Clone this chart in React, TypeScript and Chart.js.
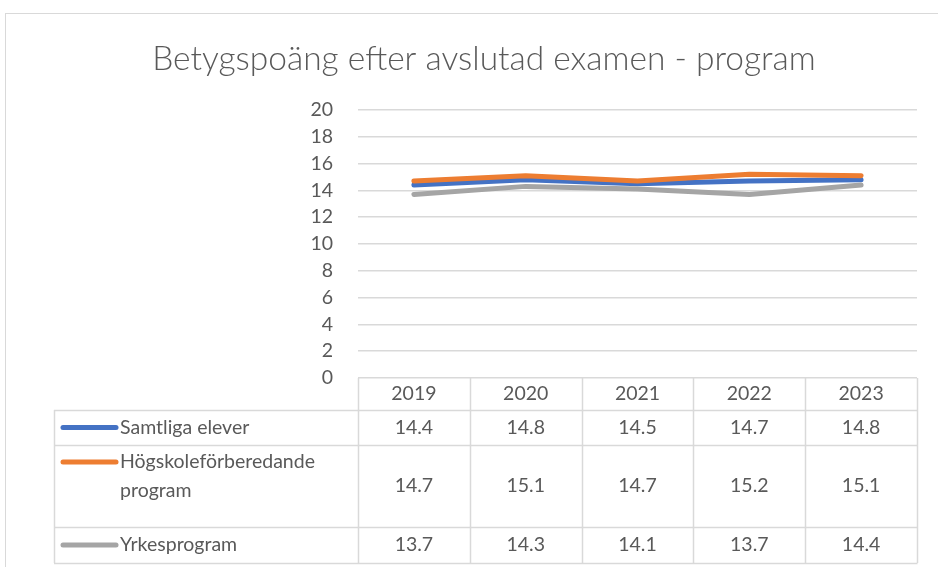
import React, { useEffect, useRef } from "react";
import { Chart, registerables } from "chart.js";

Chart.register(...registerables);

const TITLE = "Betygspoäng efter avslutad examen - program";
const YEARS = ["2019", "2020", "2021", "2022", "2023"];
const SERIES_NAMES = ["Samtliga elever", "Högskoleförberedande program", "Yrkesprogram"];
const SAMTLIGA = [14.4, 14.8, 14.5, 14.7, 14.8];
const HOGSKOLE = [14.7, 15.1, 14.7, 15.2, 15.1];
const YRKES = [13.7, 14.3, 14.1, 13.7, 14.4];
const COLORS = ["#4472C4", "#ED7D31", "#A5A5A5"];
const Y_MIN = 0;
const Y_MAX = 20;
const Y_STEP = 2;

const FONT = "Lato, 'Open Sans', sans-serif";
const TEXT_COLOR = "#595959";
const GRID_COLOR = "#D9D9D9";

// layout constants (pixels)
const HEADER_H = 32;
const ROW_H = [35, 82, 36];
const TABLE_LEFT = 54;
const KEY_X0 = 63;
const KEY_X1 = 116;
const LABEL_X = 120;

function wrapText(ctx: CanvasRenderingContext2D, text: string, maxW: number): string[] {
  const words = text.split(" ");
  const lines: string[] = [];
  let cur = "";
  for (const w of words) {
    const test = cur ? cur + " " + w : w;
    if (ctx.measureText(test).width > maxW && cur) {
      lines.push(cur);
      cur = w;
    } else cur = test;
  }
  if (cur) lines.push(cur);
  return lines;
}

const tablePlugin = {
  id: "excelTable",
  beforeDraw(chart: any) {
    const ctx = chart.ctx as CanvasRenderingContext2D;
    ctx.save();
    ctx.strokeStyle = GRID_COLOR;
    ctx.lineWidth = 1;
    ctx.strokeRect(5.5, 13.5, 960, 600);
    ctx.fillStyle = TEXT_COLOR;
    ctx.font = `300 33.5px ${FONT}`;
    ctx.textAlign = "center";
    ctx.textBaseline = "middle";
    ctx.fillText(TITLE, 484, 59);
    ctx.restore();
  },
  afterDraw(chart: any) {
    const ctx = chart.ctx as CanvasRenderingContext2D;
    const area = chart.chartArea;
    const xs = chart.scales.x;
    const n = YEARS.length;
    const top = area.bottom;
    const rowTops: number[] = [top + HEADER_H];
    for (let i = 0; i < ROW_H.length; i++) rowTops.push(rowTops[i] + ROW_H[i]);
    const bottom = rowTops[rowTops.length - 1];
    const colEdges: number[] = [];
    for (let i = 0; i <= n; i++) colEdges.push(Math.round(xs.getPixelForValue(i - 0.5)) + 0.5);

    ctx.save();
    ctx.strokeStyle = GRID_COLOR;
    ctx.lineWidth = 1.5;
    ctx.beginPath();
    for (const x of colEdges) {
      ctx.moveTo(x, top);
      ctx.lineTo(x, bottom);
    }
    for (const y of rowTops) {
      ctx.moveTo(TABLE_LEFT, Math.round(y) + 0.5);
      ctx.lineTo(colEdges[n], Math.round(y) + 0.5);
    }
    ctx.moveTo(TABLE_LEFT + 0.5, rowTops[0]);
    ctx.lineTo(TABLE_LEFT + 0.5, bottom);
    ctx.stroke();

    ctx.fillStyle = TEXT_COLOR;
    ctx.font = `19.5px ${FONT}`;
    ctx.textAlign = "center";
    ctx.textBaseline = "middle";
    for (let i = 0; i < n; i++) {
      ctx.fillText(YEARS[i], xs.getPixelForValue(i), top + HEADER_H / 2);
    }
    const datasets = chart.data.datasets;
    for (let r = 0; r < datasets.length; r++) {
      const y0 = rowTops[r];
      const h = ROW_H[r];
      const mid = y0 + h / 2;
      ctx.textAlign = "center";
      const vals = datasets[r].data as number[];
      for (let i = 0; i < n; i++) {
        ctx.fillText(vals[i].toFixed(1), xs.getPixelForValue(i), mid);
      }
      ctx.textAlign = "left";
      const lines = wrapText(ctx, datasets[r].label, colEdges[0] - LABEL_X - 8);
      const lineH = 29;
      const firstY = lines.length > 1 ? y0 + 17 : mid;
      lines.forEach((ln, k) => ctx.fillText(ln, LABEL_X, firstY + k * lineH));
      ctx.strokeStyle = datasets[r].borderColor;
      ctx.lineWidth = 5;
      ctx.lineCap = "round";
      ctx.beginPath();
      ctx.moveTo(KEY_X0, firstY);
      ctx.lineTo(KEY_X1, firstY);
      ctx.stroke();
    }
    ctx.restore();
  },
};

export default function App() {
  const ref = useRef<HTMLCanvasElement>(null);
  useEffect(() => {
    if (!ref.current) return;
    const mk = (label: string, data: number[], color: string, order: number) => ({
      label,
      data,
      borderColor: color,
      backgroundColor: color,
      borderWidth: 5,
      borderCapStyle: "round" as const,
      borderJoinStyle: "round" as const,
      pointRadius: 0,
      tension: 0,
      order,
    });
    const chart = new Chart(ref.current, {
      type: "line",
      data: {
        labels: YEARS,
        datasets: [
          mk(SERIES_NAMES[0], SAMTLIGA, COLORS[0], 3),
          mk(SERIES_NAMES[1], HOGSKOLE, COLORS[1], 2),
          mk(SERIES_NAMES[2], YRKES, COLORS[2], 1),
        ],
      },
      options: {
        responsive: false,
        animation: false,
        layout: { padding: { top: 110, bottom: 189, left: 0, right: 21 } },
        plugins: {
          legend: { display: false },
          title: { display: false },
          tooltip: { enabled: false },
        },
        scales: {
          x: {
            display: false,
            offset: true,
          },
          y: {
            min: Y_MIN,
            max: Y_MAX,
            afterFit: (scale: any) => {
              scale.width = 358;
            },
            ticks: {
              stepSize: Y_STEP,
              padding: 25,
              color: TEXT_COLOR,
              font: { family: FONT, size: 19.5 },
            },
            grid: { color: GRID_COLOR, lineWidth: 1.5, drawTicks: false },
            border: { display: false },
          },
        },
      },
      plugins: [tablePlugin],
    });
    return () => chart.destroy();
  }, []);
  return (
    <div style={{ position: "fixed", left: 0, top: 0, width: 938, height: 567, background: "#fff" }}>
      <canvas ref={ref} width={938} height={567} />
    </div>
  );
}
